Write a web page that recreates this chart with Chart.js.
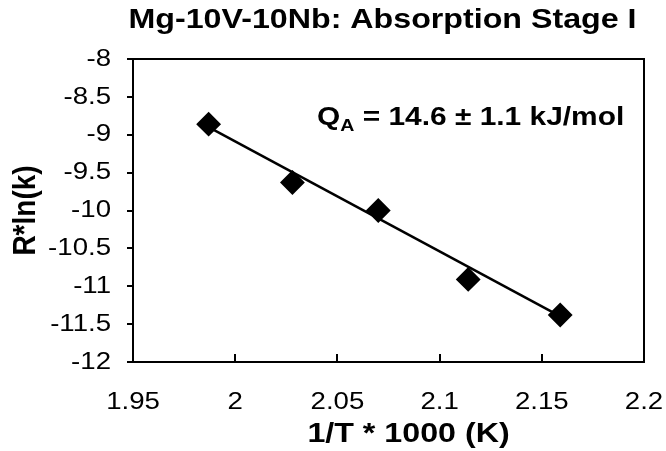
<!DOCTYPE html>
<html>
<head>
<meta charset="utf-8">
<script src="https://cdn.jsdelivr.net/npm/chart.js@4/dist/chart.umd.min.js"></script>
<style>
  html,body{margin:0;padding:0;background:#fff;}
  #wrap{width:666px;height:451px;}
</style>
</head>
<body>
<div id="wrap"><canvas id="arrh" width="666" height="451"></canvas></div>
<script>
// ── data ──
const invT   = [1.987, 2.028, 2.070, 2.114, 2.159];     // 1/T * 1000
const rlnk   = [-8.86, -9.63, -10.00, -10.91, -11.38];  // R*ln(k)
const fitX   = [1.987, 2.160];                          // trendline ends
const fitY   = [-8.90, -11.41];
const xTicks = [1.95, 2, 2.05, 2.1, 2.15, 2.2];
const yTicks = [-8, -8.5, -9, -9.5, -10, -10.5, -11, -11.5, -12];

const FONT = '"Liberation Sans", Arial, sans-serif';
const STRETCH = 1.15;   // the source image is a bit wider than tall, text included
const fmt = v => String(+(+v).toFixed(2));

// widen every label sideways around its own anchor
const stretchText = {
  id:'stretchText',
  beforeDraw(chart){
    const ctx = chart.ctx, orig = ctx.fillText;
    ctx._fill = orig;
    ctx.fillText = function(t, x, y, w){
      const m = this.getTransform();
      const p = m.transformPoint(new DOMPoint(x, y));
      this.save();
      this.setTransform(new DOMMatrix().translate(p.x, p.y).scale(STRETCH, 1).translate(-p.x, -p.y).multiply(m));
      if (w === undefined) orig.call(this, t, x, y); else orig.call(this, t, x, y, w);
      this.restore();
    };
  },
  afterDraw(chart){ chart.ctx.fillText = chart.ctx._fill; }
};

// frame, inner x ticks, x title, Q label
const framePlugin = {
  id:'frame',
  afterLayout(chart){
    // title sits a little left of the plot centre in the source
    chart.titleBlock.left -= 12;
  },
  afterDraw(chart){
    const {ctx, chartArea:a, scales:{x, y}} = chart;
    ctx.save();
    ctx.strokeStyle = '#000';
    ctx.lineWidth = 2;
    ctx.strokeRect(a.left, a.top, a.right - a.left, a.bottom - a.top);
    // x ticks point up into the plot
    ctx.beginPath();
    xTicks.forEach(v => {
      const px = Math.round(x.getPixelForValue(v));
      ctx.moveTo(px, a.bottom);
      ctx.lineTo(px, a.bottom - 8);
    });
    ctx.stroke();
    ctx.fillStyle = '#000';
    // x axis title, off-centre to the right like the source
    ctx.font = 'bold 28px ' + FONT;
    ctx.textAlign = 'center';
    ctx.textBaseline = 'middle';
    ctx.fillText('1/T * 1000 (K)', (a.left + a.right) / 2 + 20, chart.height - 17);
    // activation energy label
    let px = x.getPixelForValue(2.040), py = y.getPixelForValue(-8.87);
    ctx.textBaseline = 'alphabetic';
    ctx.textAlign = 'left';
    ctx.font = 'bold 26px ' + FONT;
    ctx.fillText('Q', px, py);
    px += ctx.measureText('Q').width * STRETCH;
    ctx.font = 'bold 17px ' + FONT;
    ctx.fillText('A', px, py + 6);
    px += ctx.measureText('A').width * STRETCH;
    ctx.font = 'bold 26px ' + FONT;
    ctx.fillText(' = 14.6 \u00b1 1.1 kJ/mol', px, py);
    ctx.restore();
  }
};

new Chart(document.getElementById('arrh').getContext('2d'), {
  type:'scatter',
  data:{
    datasets:[
      {
        label:'fit',
        type:'line',
        data: fitX.map((v,i)=>({x:v, y:fitY[i]})),
        borderColor:'#000', borderWidth:2.5, pointRadius:0, fill:false, order:2
      },
      {
        label:'Stage I',
        data: invT.map((v,i)=>({x:v, y:rlnk[i]})),
        pointStyle:'rectRot', pointRadius:11, pointHoverRadius:11,
        backgroundColor:'#000', borderColor:'#000', borderWidth:2, order:1
      }
    ]
  },
  options:{
    responsive:false, animation:false,
    layout:{ padding:{ left:0, right:22, top:0, bottom:0 } },
    plugins:{
      legend:{display:false}, tooltip:{enabled:false},
      title:{
        display:true, fullSize:false, text:'Mg-10V-10Nb: Absorption Stage I', color:'#000',
        font:{family:FONT, size:28, weight:'bold'}, padding:{top:3, bottom:22.4}
      }
    },
    scales:{
      x:{
        type:'linear', min:1.95, max:2.2,
        afterBuildTicks: s => { s.ticks = xTicks.map(v=>({value:v})); },
        afterFit: s => { s.height = 89; s.paddingLeft = 0; s.paddingRight = 0; },
        ticks:{ color:'#000', font:{family:FONT, size:24}, padding:26, maxRotation:0, autoSkip:false, callback:fmt },
        grid:{ display:true, drawOnChartArea:false, drawTicks:false },
        border:{ display:false },
        title:{ display:false }
      },
      y:{
        type:'linear', min:-12, max:-8,
        afterBuildTicks: s => { s.ticks = yTicks.map(v=>({value:v})); },
        afterFit: s => { s.width = 133; },
        ticks:{ color:'#000', font:{family:FONT, size:24}, padding:16, autoSkip:false, callback:fmt },
        grid:{ display:true, drawOnChartArea:false, drawTicks:true, tickLength:6, color:'#000', lineWidth:2 },
        border:{ display:false },
        title:{ display:true, text:'R*ln(k)', color:'#000', font:{family:FONT, size:28, weight:'bold'}, padding:{top:9, bottom:0} }
      }
    }
  },
  plugins:[framePlugin, stretchText]
});
</script>
</body>
</html>
